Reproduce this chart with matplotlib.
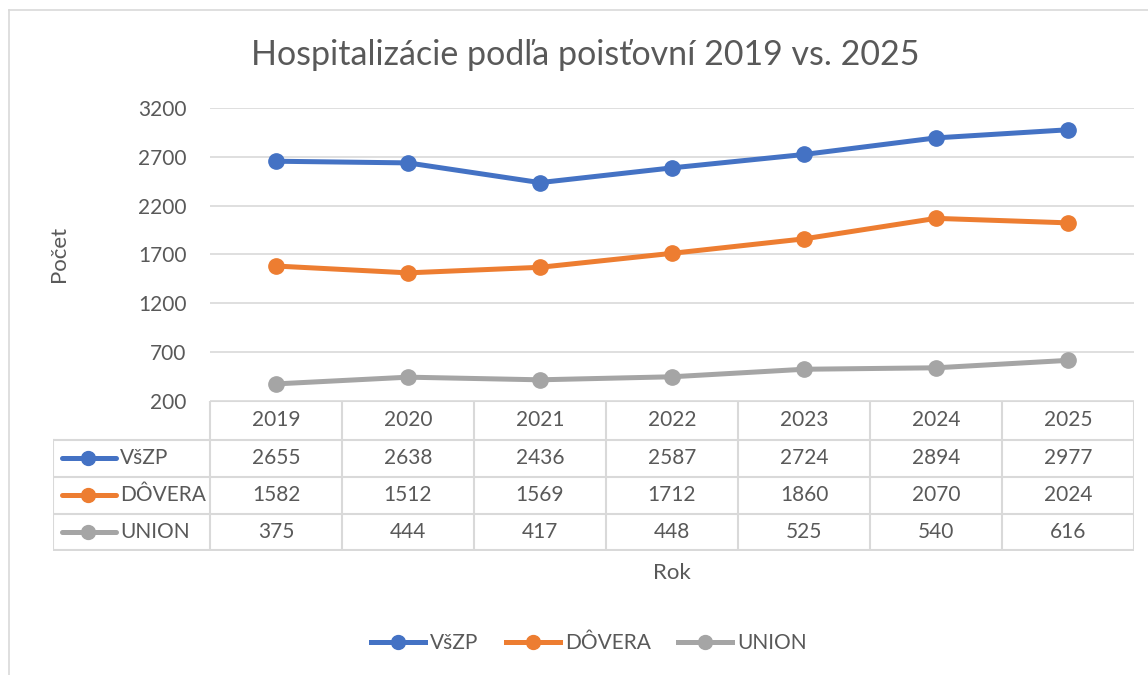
import matplotlib.pyplot as plt
from matplotlib.lines import Line2D

# Data
years = ["2019", "2020", "2021", "2022", "2023", "2024", "2025"]
vszp = [2655, 2638, 2436, 2587, 2724, 2894, 2977]
dovera = [1582, 1512, 1569, 1712, 1860, 2070, 2024]
union = [375, 444, 417, 448, 525, 540, 616]
series_names = ["VšZP", "DÔVERA", "UNION"]
series_colors = ["#4472C4", "#ED7D31", "#A5A5A5"]
y_ticks = [200, 700, 1200, 1700, 2200, 2700, 3200]

plt.rcParams['font.family'] = ['Lato', 'DejaVu Sans']
TXT = '#595959'
GRID = '#D9D9D9'
FS = 15

W, H = 1148, 675
fig = plt.figure(figsize=(W / 100, H / 100), dpi=100)


def px_axes(x0, y0, x1, y1):
    # axes placed by pixel box (top-left origin)
    return fig.add_axes([x0 / W, 1 - y1 / H, (x1 - x0) / W, (y1 - y0) / H])


# outer frame (partially visible)
frame = fig.add_axes([0, 0, 1, 1])
frame.set_xlim(0, W)
frame.set_ylim(H, 0)
frame.axis('off')
frame.plot([9, W], [10, 10], color=GRID, lw=1.2)
frame.plot([9, 9], [10, H], color=GRID, lw=1.2)

# main plot
ax = px_axes(210, 108, 1134, 401)
all_series = [vszp, dovera, union]
x = list(range(len(years)))
for vals, name, col in zip(all_series, series_names, series_colors):
    ax.plot(x, vals, color=col, lw=3.6, marker='o', markersize=11,
            solid_capstyle='round', label=name, zorder=3)
ax.set_xlim(-0.5, len(years) - 0.5)
ax.set_ylim(200, 3200)
ax.set_yticks(y_ticks)
ax.set_yticklabels([str(t) for t in y_ticks], fontsize=FS, color=TXT)
ax.tick_params(axis='y', length=0, pad=17)
ax.set_xticks([])
for t in y_ticks:
    ax.axhline(t, color=GRID, lw=1.2, zorder=1)
for s in ax.spines.values():
    s.set_visible(False)

fig.text(59 / W, 1 - 254 / H, "Počet", rotation=90, ha='center', va='center',
         fontsize=16, color=TXT)
fig.text(585 / W, 1 - 55 / H, "Hospitalizácie podľa poisťovní 2019 vs. 2025",
         ha='center', va='center', fontsize=24.5, color=TXT)

# data table
tab = px_axes(53, 401, 1134, 551)
tab.set_xlim(53, 1134)
tab.set_ylim(551, 401)
tab.axis('off')
col_w = 132
col_edges = [210 + i * col_w for i in range(len(years) + 1)]
row_edges = [401, 440, 477, 514, 550]
tab.plot([210, 1134], [401, 401], color=GRID, lw=1.5)
for ry in row_edges[1:]:
    tab.plot([53, 1134], [ry, ry], color=GRID, lw=1.5)
for cx in col_edges:
    tab.plot([cx, cx], [401, 550], color=GRID, lw=1.5)
tab.plot([53, 53], [440, 550], color=GRID, lw=1.5)

for i, yr in enumerate(years):
    cx = col_edges[i] + col_w / 2
    tab.text(cx, 420, yr, ha='center', va='center', fontsize=FS, color=TXT)
for r, (vals, name, col) in enumerate(zip(all_series, series_names, series_colors)):
    cy = (row_edges[r + 1] + row_edges[r + 2]) / 2
    tab.plot([62, 116], [cy, cy], color=col, lw=3.6, solid_capstyle='round')
    tab.plot([88], [cy], marker='o', markersize=10, color=col)
    tab.text(120, cy, name, ha='left', va='center', fontsize=FS, color=TXT)
    for i, v in enumerate(vals):
        cx = col_edges[i] + col_w / 2
        tab.text(cx, cy, str(v), ha='center', va='center', fontsize=FS, color=TXT)

fig.text(672 / W, 1 - 573 / H, "Rok", ha='center', va='center', fontsize=16, color=TXT)

handles = [Line2D([], [], color=c, lw=3.6, marker='o', markersize=10) for c in series_colors]
fig.legend(handles, series_names, loc='center', bbox_to_anchor=(589 / W, 1 - 643 / H),
           ncol=3, frameon=False, fontsize=FS, handlelength=2.6, handletextpad=0.25,
           columnspacing=1.3, labelcolor=TXT)

fig.savefig("out.png", dpi=100)
